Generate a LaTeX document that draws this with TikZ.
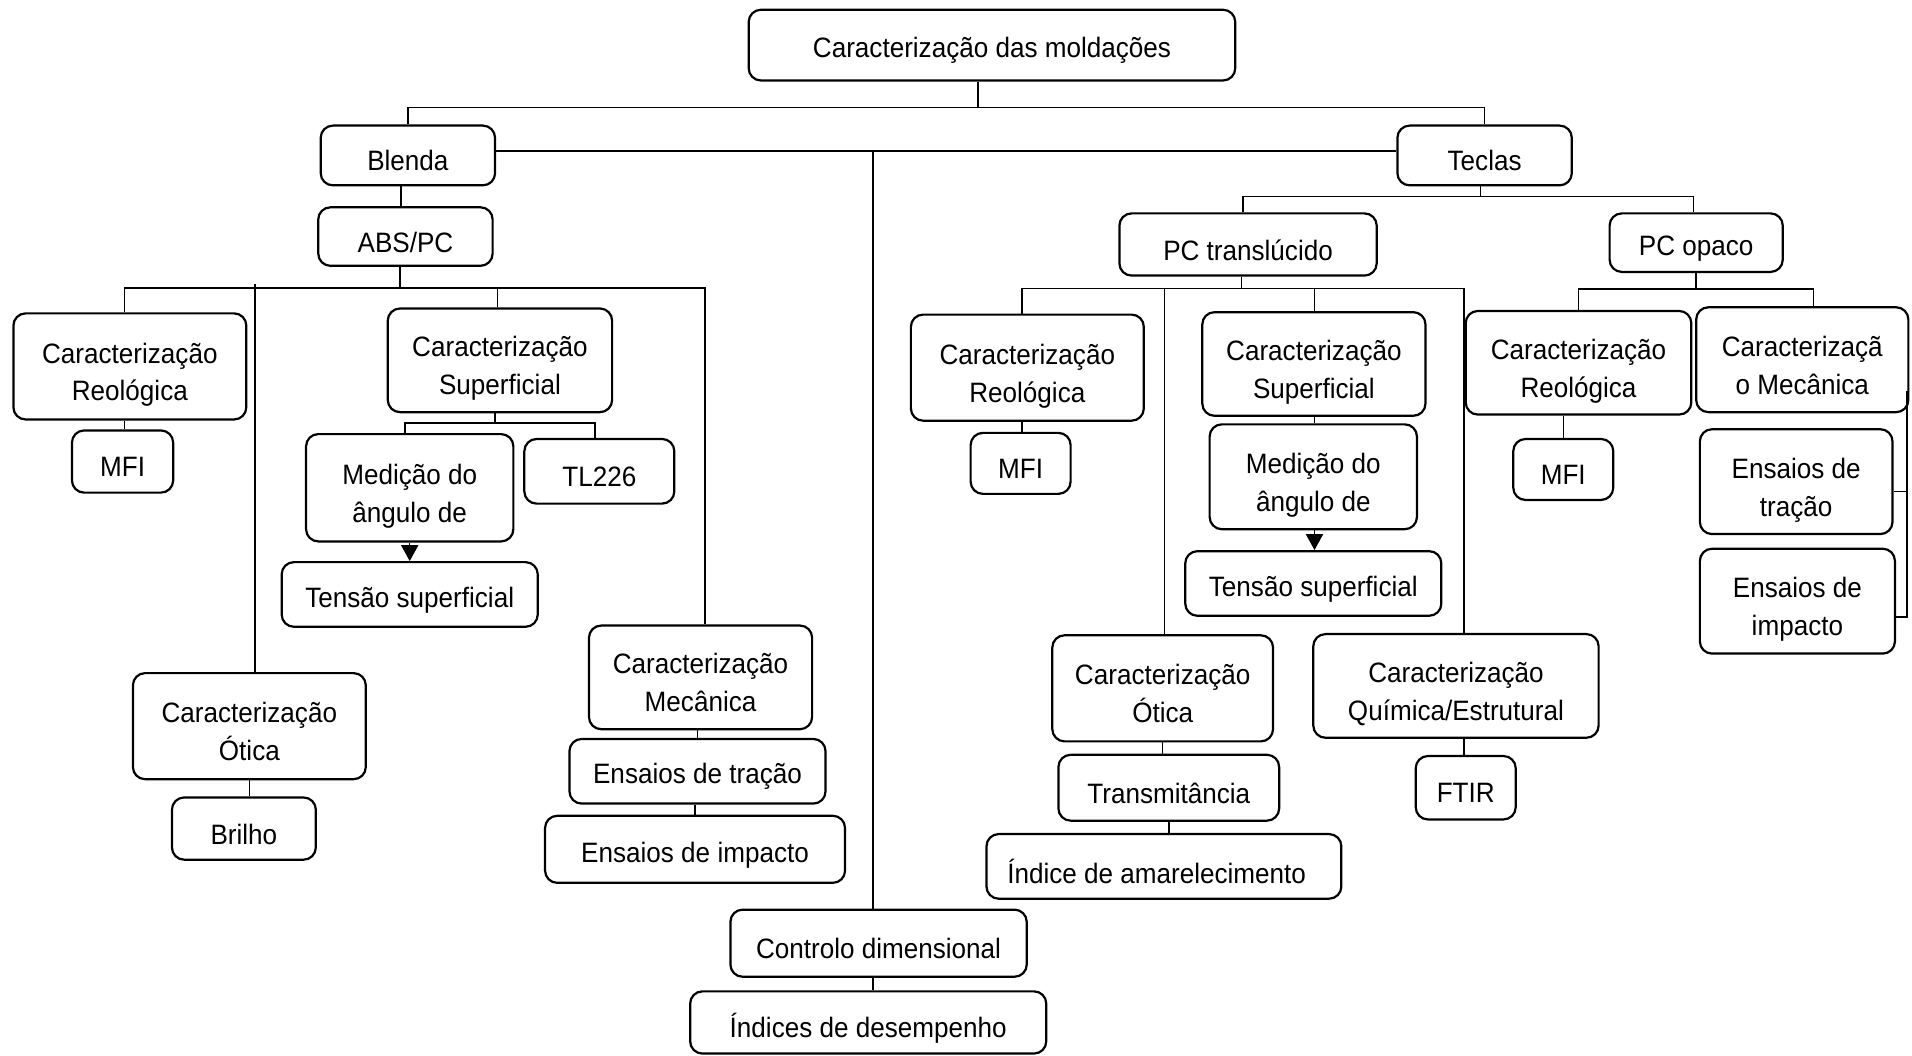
\documentclass[tikz,border=0pt]{standalone}
\usepackage{fontspec}
\setmainfont{Liberation Sans}[FakeStretch=0.93]
\usetikzlibrary{arrows.meta}
\tikzset{
  box/.style={draw, rounded corners=5pt, line width=0.9pt, align=center, inner sep=0pt,
    font=\fontsize{11.5pt}{15.5pt}\selectfont},
  conn/.style={line width=0.6pt},
  arr/.style={line width=0.6pt, -{Triangle[width=7pt,length=6.5pt]}}
}
% single-line box
\newcommand{\mybox}[6]{%
  \node[box, minimum width={(#4-#2)*0.5pt}, minimum height={(#5-#3)*0.5pt}]
    (#1) at ({(#2+#4)/2},{(#3+#5)/2}) {\raisebox{-2.25pt}[\height][\depth]{#6}};}
% two-line box
\newcommand{\mybbox}[7]{%
  \node[box, minimum width={(#4-#2)*0.5pt}, minimum height={(#5-#3)*0.5pt}]
    (#1) at ({(#2+#4)/2},{(#3+#5)/2})
    {\raisebox{-3.25pt}[\height][\depth]{\begin{tabular}{@{}c@{}}#6\\#7\end{tabular}}};}
\begin{document}
\begin{tikzpicture}[x=0.5pt,y=-0.5pt]
\useasboundingbox (0,0) rectangle (1568,866);
% boxes
\mybox{root}{614}{8}{1013}{66}{Caracterização das moldações}
\mybox{blenda}{263}{103}{406}{152}{Blenda}
\mybox{teclas}{1146}{103}{1289}{152}{Teclas}
\mybox{abs}{261}{170}{404}{218}{ABS/PC}
\mybbox{reo1}{11}{257}{202}{344}{Caracterização}{Reológica}
\mybox{mfi1}{59}{353}{142}{404}{MFI}
\mybbox{sup1}{318}{253}{502}{338}{Caracterização}{Superficial}
\mybbox{med1}{251}{356}{421}{444}{Medição do}{ângulo de}
\mybox{tl}{430}{360}{553}{413}{TL226}
\mybox{ten1}{231}{461}{441}{514}{Tensão superficial}
\mybbox{ot1}{109}{552}{300}{639}{Caracterização}{Ótica}
\mybox{bri}{141}{654}{259}{705}{Brilho}
\mybbox{mec1}{483}{513}{666}{598}{Caracterização}{Mecânica}
\mybox{etr1}{467}{606}{677}{659}{Ensaios de tração}
\mybox{eim1}{447}{669}{693}{724}{Ensaios de impacto}
\mybox{ctrl}{599}{746}{842}{801}{Controlo dimensional}
\mybox{ind}{566}{813}{858}{864}{Índices de desempenho}
\mybox{pct}{918}{175}{1129}{226}{PC translúcido}
\mybox{pco}{1320}{175}{1462}{223}{PC opaco}
\mybbox{reo2}{747}{258}{938}{345}{Caracterização}{Reológica}
\mybox{mfi2}{796}{355}{878}{405}{MFI}
\mybbox{sup2}{986}{256}{1169}{341}{Caracterização}{Superficial}
\mybbox{med2}{992}{348}{1162}{434}{Medição do}{ângulo de}
\mybox{ten2}{972}{452}{1182}{505}{Tensão superficial}
\mybbox{ot2}{863}{521}{1044}{608}{Caracterização}{Ótica}
\mybbox{qui}{1077}{520}{1311}{605}{Caracterização}{Química/Estrutural}
\mybox{tra}{868}{619}{1049}{673}{Transmitância}
\mybox{ia}{809}{684}{1100}{737}{Índice de amarelecimento\hspace{6pt}}
\mybox{ftir}{1161}{620}{1243}{672}{FTIR}
\mybbox{reo3}{1202}{255}{1387}{340}{Caracterização}{Reológica}
\mybox{mfi3}{1241}{360}{1323}{410}{MFI}
\mybbox{mec3}{1391}{252}{1565}{338}{Caracterizaçã}{o Mecânica}
\mybbox{etr3}{1394}{352}{1552}{438}{Ensaios de}{tração}
\mybbox{eim3}{1394}{450}{1554}{536}{Ensaios de}{impacto}
% junction coordinates
\coordinate (j0) at (802,88);
\coordinate (jb) at (716,124);
\coordinate (jc) at (329,160);
\coordinate (a0) at (328,236);
\coordinate (a1) at (102,236);
\coordinate (a2) at (209,233);
\coordinate (a3) at (408,236);
\coordinate (a4) at (578,236);
\coordinate (s0) at (406,347);
\coordinate (s1) at (332,347);
\coordinate (s2) at (488,347);
\coordinate (t0) at (1214,161);
\coordinate (t1) at (1019.5,161);
\coordinate (t2) at (1389,161);
\coordinate (p0) at (1018,236.6);
\coordinate (p1) at (838,236.6);
\coordinate (p2) at (955,236.6);
\coordinate (p3) at (1078,236.6);
\coordinate (p4) at (1200.6,236.6);
\coordinate (o0) at (1391,237);
\coordinate (o1) at (1294.7,237);
\coordinate (o2) at (1487.4,237);
\coordinate (br) at (1564,321);
\coordinate (b1) at (1564,403);
\coordinate (b2) at (1564,506);
% connectors
\draw[conn] (root.south -| j0) -- (j0);
\draw[conn] (blenda.north) |- (j0) -| (teclas.north);
\draw[conn] (blenda.east |- jb) -- (teclas.west |- jb);
\draw[conn] (jb) -- (jb |- ctrl.north);
\draw[conn] (jb |- ctrl.south) -- (jb |- ind.north);
\draw[conn] (jc |- blenda.south) -- (jc |- abs.north);
\draw[conn] (abs.south -| a0) -- (a0);
\draw[conn] (a1 |- reo1.north) -- (a1) -- (a4) -- (a4 |- mec1.north);
\draw[conn] (a2) -- (a2 |- ot1.north);
\draw[conn] (a3) -- (a3 |- sup1.north);
\draw[conn] (a1 |- reo1.south) -- (a1 |- mfi1.north);
\draw[conn] (s0 |- sup1.south) -- (s0);
\draw[conn] (s1 |- med1.north) -- (s1) -- (s2) -- (s2 |- tl.north);
\draw[arr] (med1.south) -- (med1.south |- ten1.north);
\draw[conn] (ot1.south) -- (ot1.south |- bri.north);
\draw[conn] (etr1.north |- mec1.south) -- (etr1.north);
\draw[conn] (eim1.north |- etr1.south) -- (eim1.north);
\draw[conn] (teclas.south -| t0) -- (t0);
\draw[conn] (t1 |- pct.north) -- (t1) -- (t2) -- (t2 |- pco.north);
\draw[conn] (pct.south -| p0) -- (p0);
\draw[conn] (p1 |- reo2.north) -- (p1) -- (p4) -- (p4 |- qui.north);
\draw[conn] (p2) -- (p2 |- ot2.north);
\draw[conn] (p3) -- (p3 |- sup2.north);
\draw[conn] (p1 |- reo2.south) -- (p1 |- mfi2.north);
\draw[conn] (p3 |- sup2.south) -- (p3 |- med2.north);
\draw[arr] (p3 |- med2.south) -- (p3 |- ten2.north);
\draw[conn] (ot2.south) -- (ot2.south |- tra.north);
\draw[conn] (tra.south) -- (tra.south |- ia.north);
\draw[conn] (p4 |- qui.south) -- (p4 |- ftir.north);
\draw[conn] (pco.south -| o0) -- (o0);
\draw[conn] (o1 |- reo3.north) -- (o1) -- (o2) -- (o2 |- mec3.north);
\draw[conn] (mfi3.north |- reo3.south) -- (mfi3.north);
\draw[conn] (br) -- (b2) -- (b2 -| eim3.east);
\draw[conn] (b1) -- (b1 -| etr3.east);
\end{tikzpicture}
\end{document}
